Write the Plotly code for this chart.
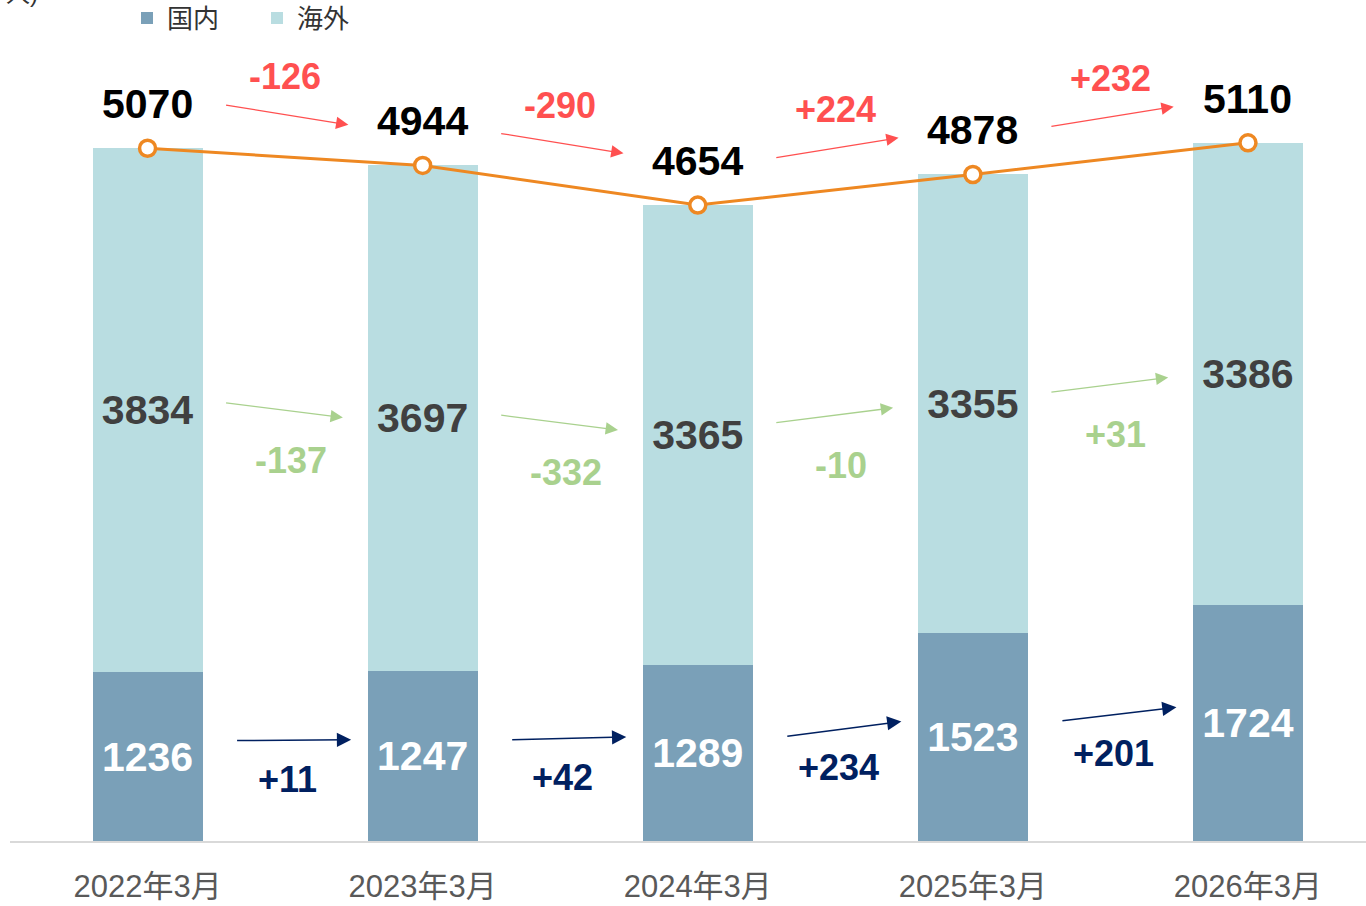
import plotly.graph_objects as go

# ---------------- data ----------------
categories = ["2022年3月", "2023年3月", "2024年3月", "2025年3月", "2026年3月"]
domestic = [1236, 1247, 1289, 1523, 1724]
overseas = [3834, 3697, 3365, 3355, 3386]
series_names = ["国内", "海外"]
unit_label = "人)"

# ---------------- styles ----------------
C_DOM = "#7AA0B8"
C_OVS = "#B9DDE1"
C_LINE = "#EE8822"
C_RED = "#FF5050"
C_GREEN = "#A9D18E"
C_NAVY = "#002060"
FONT = "Liberation Sans, Arial, Noto Sans CJK JP, sans-serif"

W, H = 1366, 906
M_L, M_R, M_T, M_B = 10, 0, 0, 65
PLOT_H = H - M_T - M_B
Y_MAX = 6155
PPU = PLOT_H / Y_MAX  # pixels per data unit

totals = [d + o for d, o in zip(domestic, overseas)]
dom_mid = [d / 2 for d in domestic]
ovs_mid = [d + o / 2 for d, o in zip(domestic, overseas)]
idx = list(range(len(categories)))

fig = go.Figure()
fig.add_trace(go.Bar(
    x=idx, y=domestic, name=series_names[0], marker=dict(color=C_DOM, line_width=0),
    width=0.4, text=[str(v) for v in domestic], textposition="inside",
    insidetextanchor="middle", constraintext="none", textangle=0,
    textfont=dict(family=FONT, size=41, color="white", weight="bold"),
))
fig.add_trace(go.Bar(
    x=idx, y=overseas, name=series_names[1], marker=dict(color=C_OVS, line_width=0),
    width=0.4, text=[str(v) for v in overseas], textposition="inside",
    insidetextanchor="middle", constraintext="none", textangle=0,
    textfont=dict(family=FONT, size=41, color="#404040", weight="bold"),
))
fig.add_trace(go.Scatter(
    x=idx, y=totals, mode="lines+markers", showlegend=False,
    line=dict(color=C_LINE, width=3),
    marker=dict(symbol="circle", size=16, color="white", line=dict(color=C_LINE, width=3.5)),
))

annotations = []
# total labels above markers
for i, t in enumerate(totals):
    annotations.append(dict(
        x=i, y=t + 44 / PPU, xref="x", yref="y", text=str(t), showarrow=False,
        font=dict(family=FONT, size=41, color="black", weight="bold"),
        xanchor="center", yanchor="middle"))


def add_changes(anchors, values, color, off_px, rise_cap, const_rise,
                tail_dx, head_dx, lab_dx, lab_off_px, width):
    """off_px / lab_off_px: positive = lower on screen."""
    for i in range(len(values) - 1):
        diff = values[i + 1] - values[i]
        sign = 1 if (anchors[i + 1] - anchors[i]) >= 0 else -1
        if const_rise:
            rise_px = sign * rise_cap
        else:
            rise_px = sign * min(abs(anchors[i + 1] - anchors[i]) * PPU, rise_cap)
        mid = (anchors[i] + anchors[i + 1]) / 2 - off_px / PPU
        tail_y = mid - rise_px / 2 / PPU
        head_y = mid + rise_px / 2 / PPU
        annotations.append(dict(
            x=i + head_dx, y=head_y, ax=i + tail_dx, ay=tail_y,
            xref="x", yref="y", axref="x", ayref="y", text="",
            showarrow=True, arrowhead=2, arrowsize=1.9, arrowwidth=width,
            arrowcolor=color, standoff=0, startstandoff=0))
        annotations.append(dict(
            x=i + lab_dx, y=mid - lab_off_px / PPU, xref="x", yref="y",
            text=f"{diff:+d}", showarrow=False,
            font=dict(family=FONT, size=36, color=color, weight="bold"),
            xanchor="center", yanchor="middle"))


add_changes(totals, totals, C_RED, -42, 20, True, 0.28, 0.73, 0.50, -38, 1.3)
add_changes(ovs_mid, overseas, C_GREEN, -4, 15, True, 0.28, 0.71, 0.52, 50, 1.3)
add_changes(dom_mid, domestic, C_NAVY, -16, 15, False, 0.32, 0.74, 0.51, 39, 1.5)

annotations.append(dict(
    x=0.0, y=1.0, xref="paper", yref="paper", text=unit_label, showarrow=False,
    xanchor="left", yanchor="bottom", yshift=-9, xshift=-6,
    font=dict(family=FONT, size=24, color="#333333")))

fig.update_layout(
    width=W, height=H, barmode="stack",
    margin=dict(l=M_L, r=M_R, t=M_T, b=M_B, pad=0, autoexpand=False),
    paper_bgcolor="white", plot_bgcolor="white",
    font=dict(family=FONT, color="#595959"),
    showlegend=True,
    legend=dict(orientation="h", xref="container", yref="container",
                x=127 / W, y=1 - 18 / H, xanchor="left", yanchor="middle",
                entrywidth=85, entrywidthmode="pixels", traceorder="normal",
                font=dict(family=FONT, size=26, color="#333333"),
                bgcolor="rgba(0,0,0,0)", borderwidth=0),
    xaxis=dict(range=[-0.5, 4.429], tickvals=idx, ticktext=categories,
               showgrid=False, zeroline=False, showline=True,
               linecolor="#D9D9D9", linewidth=1.5, ticks="outside", ticklen=0,
               ticklabelstandoff=17, automargin=False,
               tickfont=dict(family=FONT, size=31, color="#595959")),
    yaxis=dict(range=[0, Y_MAX], visible=False, showgrid=False, zeroline=False),
    annotations=annotations,
    hovermode=False,
)

fig.write_html("out.html", config={"displayModeBar": False},
               post_script="document.body.style.margin='0';")
